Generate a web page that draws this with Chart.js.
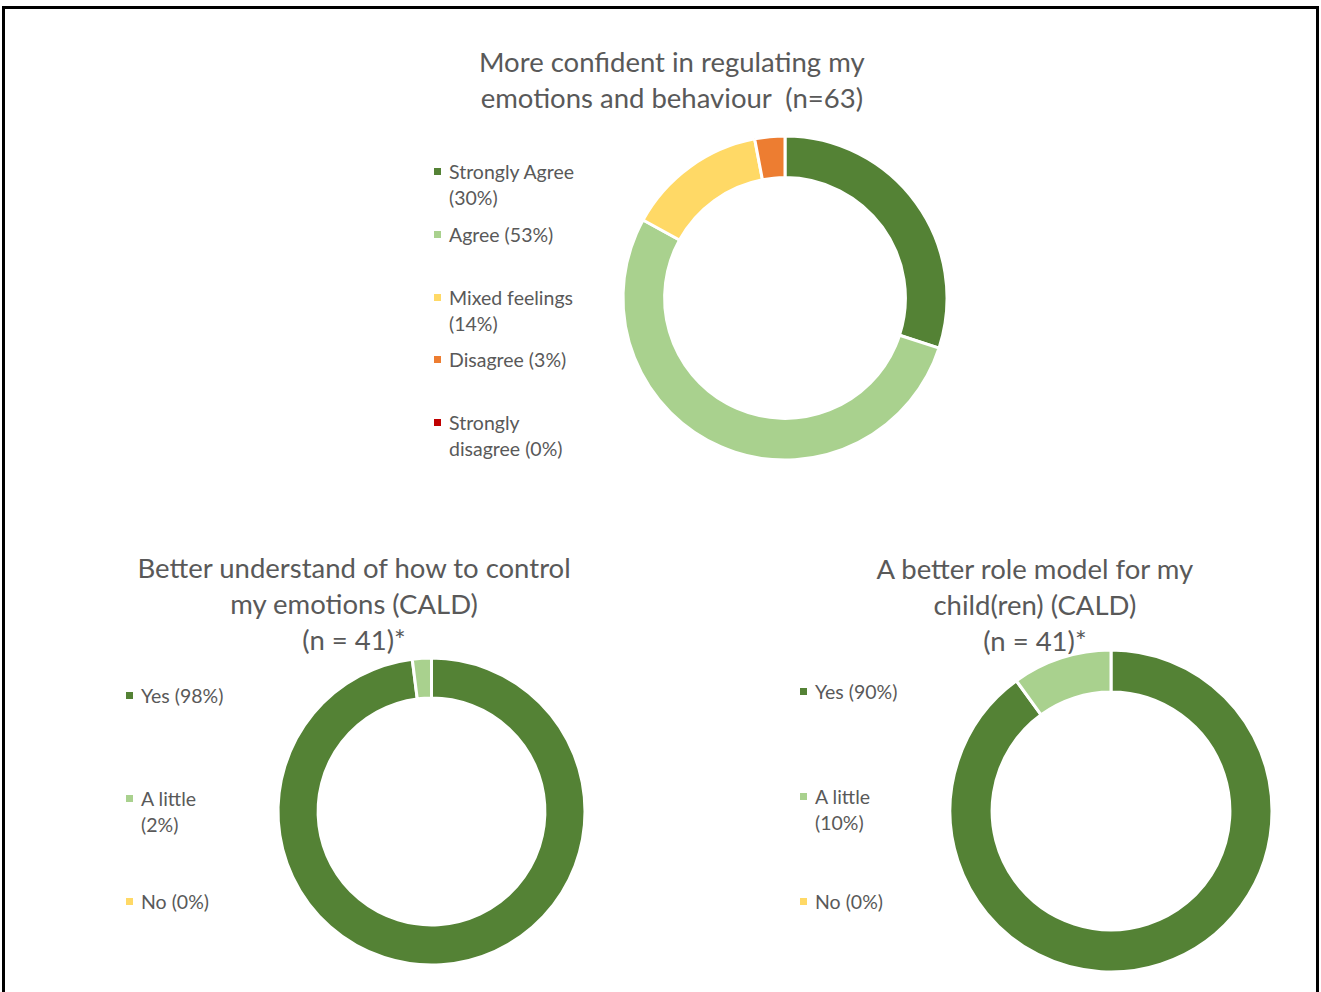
<!DOCTYPE html>
<html>
<head>
<meta charset="utf-8">
<title>Parent outcomes</title>
<script src="https://cdn.jsdelivr.net/npm/chart.js@4.4.0/dist/chart.umd.min.js"></script>
<style>
    html, body {
        margin: 0;
        padding: 0;
        background: #fff;
    }
    #page {
        position: relative;
        width: 1321px;
        height: 992px;
        overflow: hidden;
        font-family: Lato, "Open Sans", sans-serif;
        color: #595959;
    }
    .frame {
        position: absolute;
        left: 2px;
        top: 6px;
        width: 1311px;
        height: 1000px;
        border-top: 3px solid #000;
        border-left: 3px solid #000;
        border-right: 3px solid #000;
    }
    .donut {
        position: absolute;
    }
    .chart-title {
        position: absolute;
        text-align: center;
        white-space: nowrap;
        font-size: 27.5px;
        line-height: 36px;
    }
    .legend-item {
        position: absolute;
        font-size: 19.5px;
        line-height: 26px;
        padding-left: 15px;
    }
    .legend-item .swatch {
        position: absolute;
        left: 0;
        top: 9px;
        width: 7px;
        height: 7px;
    }
</style>
</head>
<body>
<div id="page">
    <div class="frame"></div>
</div>

<script>
// Survey answers, in percent
const confidenceCategories = ['Strongly Agree', 'Agree', 'Mixed feelings', 'Disagree', 'Strongly disagree'];
const confidenceValues = [30, 53, 14, 3, 0];
const confidenceTitle = ['More confident in regulating my', 'emotions and behaviour\u00a0 (n=63)'];

const controlCategories = ['Yes', 'A little', 'No'];
const controlValues = [98, 2, 0];
const controlTitle = ['Better understand of how to control', 'my emotions (CALD)', '(n = 41)*'];

const roleModelCategories = ['Yes', 'A little', 'No'];
const roleModelValues = [90, 10, 0];
const roleModelTitle = ['A better role model for my', 'child(ren) (CALD)', '(n = 41)*'];

const agreementColors = ['#548235', '#A9D18E', '#FFD966', '#ED7D31', '#C00000'];
const yesNoColors = ['#548235', '#A9D18E', '#FFD966'];

class DonutPanel {
    constructor(cfg) {
        this.cfg = cfg;
        this.page = document.getElementById('page');

        this.drawTitle();
        this.drawLegend();
        this.drawChart();
    }

    drawTitle() {
        const c = this.cfg;
        const el = document.createElement('div');
        el.className = 'chart-title';
        el.innerHTML = c.title.join('<br>');
        this.page.appendChild(el);
        // center the block on the given x
        el.style.left = (c.titleX - el.offsetWidth / 2) + 'px';
        el.style.top = (c.titleY - 18) + 'px';
    }

    drawLegend() {
        const c = this.cfg;
        c.categories.forEach((cat, i) => {
            const item = document.createElement('div');
            item.className = 'legend-item';
            item.style.left = c.legendX + 'px';
            item.style.top = (c.legendY + i * c.legendStep - 13) + 'px';
            item.style.width = c.legendWidth + 'px';

            const swatch = document.createElement('span');
            swatch.className = 'swatch';
            swatch.style.background = c.colors[i];
            item.appendChild(swatch);
            item.appendChild(document.createTextNode(`${cat} (${c.values[i]}%)`));
            this.page.appendChild(item);
        });
    }

    drawChart() {
        const c = this.cfg;
        const size = c.radius * 2 + 10;
        const canvas = document.createElement('canvas');
        canvas.className = 'donut';
        canvas.width = size;
        canvas.height = size;
        canvas.style.left = (c.cx - size / 2) + 'px';
        canvas.style.top = (c.cy - size / 2) + 'px';
        this.page.appendChild(canvas);

        this.chart = new Chart(canvas.getContext('2d'), {
            type: 'doughnut',
            data: {
                labels: c.categories,
                datasets: [{
                    data: c.values,
                    backgroundColor: c.colors,
                    borderColor: '#ffffff',
                    borderWidth: 3,
                    radius: c.radius,
                    cutout: c.cutout
                }]
            },
            options: {
                responsive: false,
                animation: false,
                radius: c.radius,
                cutout: c.cutout,
                layout: { padding: 0 },
                plugins: {
                    legend: { display: false },
                    tooltip: { enabled: false },
                    title: { display: false }
                }
            }
        });
    }
}

new DonutPanel({
    title: confidenceTitle,
    titleX: 672, titleY: 62,
    categories: confidenceCategories,
    values: confidenceValues,
    colors: agreementColors,
    legendX: 434, legendY: 172, legendStep: 62.75, legendWidth: 135,
    cx: 785, cy: 298, radius: 162, cutout: 123
});

new DonutPanel({
    title: controlTitle,
    titleX: 354, titleY: 568,
    categories: controlCategories,
    values: controlValues,
    colors: yesNoColors,
    legendX: 126, legendY: 696, legendStep: 103, legendWidth: 88,
    cx: 431, cy: 811, radius: 153.5, cutout: 116
});

new DonutPanel({
    title: roleModelTitle,
    titleX: 1035, titleY: 569,
    categories: roleModelCategories,
    values: roleModelValues,
    colors: yesNoColors,
    legendX: 800, legendY: 692, legendStep: 105, legendWidth: 88,
    cx: 1111, cy: 811, radius: 161, cutout: 121.5
});
</script>
</body>
</html>
